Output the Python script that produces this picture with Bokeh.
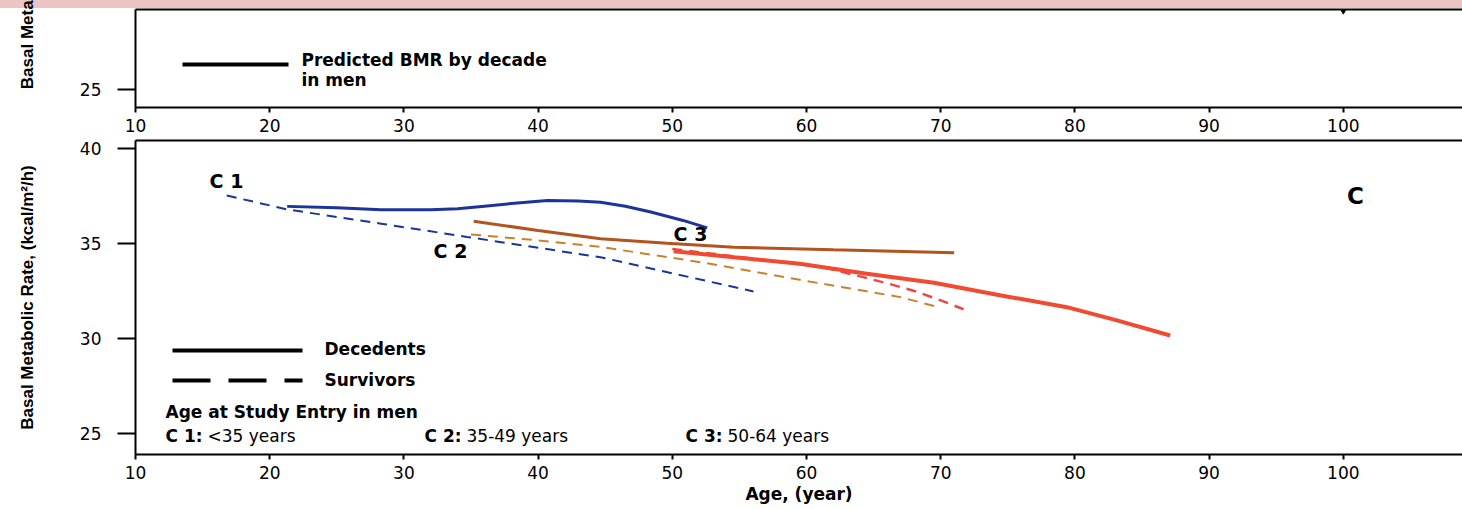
from bokeh.plotting import figure
from bokeh.models import Range1d, FixedTicker, LinearAxis
from bokeh.layouts import column
from bokeh.embed import file_html
from bokeh.resources import INLINE
from bokeh.core.properties import value

# ---------------- data ----------------
x_ticks = [10, 20, 30, 40, 50, 60, 70, 80, 90, 100]
y_ticks = [25, 30, 35, 40]

# C1 (<35 years at entry)
c1_dec_age = [21.3, 25.0, 28.3, 32.0, 34.0, 36.0, 38.0, 40.7, 43.0, 44.65, 46.5, 48.4, 50.8, 52.6]
c1_dec_bmr = [36.97, 36.90, 36.79, 36.79, 36.84, 36.98, 37.12, 37.28, 37.25, 37.19, 36.98, 36.67, 36.23, 35.84]
c1_sur_age = [16.8, 21.3, 28.3, 34.7, 40.0, 44.65, 48.4, 52.0, 56.05]
c1_sur_bmr = [37.54, 36.81, 36.06, 35.36, 34.79, 34.29, 33.70, 33.13, 32.49]

# C2 (35-49 years at entry)
c2_dec_age = [35.2, 40.0, 44.65, 49.6, 54.6, 62.0, 71.0]
c2_dec_bmr = [36.19, 35.70, 35.26, 35.03, 34.82, 34.68, 34.53]
c2_sur_age = [35.0, 40.0, 44.6, 48.4, 52.1, 55.8, 59.5, 63.3, 67.0, 70.0]
c2_sur_bmr = [35.49, 35.18, 34.84, 34.43, 34.03, 33.57, 33.10, 32.64, 32.19, 31.63]

# C3 (50-64 years at entry)
c3_dec_age = [50.1, 54.6, 59.5, 64.5, 69.5, 74.5, 79.4, 83.2, 87.1]
c3_dec_bmr = [34.61, 34.29, 33.95, 33.42, 32.95, 32.28, 31.66, 30.95, 30.17]
c3_sur_age = [50.0, 53.0, 56.0, 59.0, 61.5, 64.3, 66.2, 68.1, 70.0, 71.7]
c3_sur_bmr = [34.72, 34.48, 34.22, 33.97, 33.72, 33.23, 32.88, 32.50, 32.02, 31.55]

# predicted BMR by decade (only the point at 100 shows at the edge)
pred_age = [100]
pred_bmr = [29.33]

curve_labels = ["C 1", "C 2", "C 3"]
group_bold = ["C 1:", "C 2:", "C 3:"]
group_rest = ["<35 years", "35-49 years", "50-64 years"]
y_title = "Basal Metabolic Rate, (kcal/m\u00b2/h)"
x_title = "Age, (year)"

# ---------------- layout constants ----------------
FONT = "DejaVu Sans"
YFONT = "Liberation Sans"
W = 1462
BL = 135                      # frame left at page x 135
X_RANGE = (10, 108.88)
FW = W - BL

TOP_H = 138
TOP_Y = (24.05, 29.21)
TOP_FRAME = (9, 107)          # page px top / bottom

BOT_H = 371
BOT_Y = (23.90, 40.44)
BOT_FRAME = (140, 454)        # page px (canvas starts at 138)

BLUE = "#1c3399"
BROWN = "#b3541e"
ORANGE = "#c8832a"
RED = "#f24a30"
RED_D = "#ee4646"


def ax_(px):
    return X_RANGE[0] + (px - BL) / FW * (X_RANGE[1] - X_RANGE[0])


def ay_(py, yr, fr):
    return yr[1] - (py - fr[0]) / (fr[1] - fr[0]) * (yr[1] - yr[0])


def by(py):
    return ay_(py, BOT_Y, BOT_FRAME)


def ty(py):
    return ay_(py, TOP_Y, TOP_FRAME)


def style(p):
    p.outline_line_color = None
    p.grid.visible = False
    p.background_fill_color = "white"
    xa = p.xaxis[0]
    ya = p.yaxis[0]
    xa.ticker = FixedTicker(ticks=x_ticks)
    ya.ticker = FixedTicker(ticks=y_ticks)
    for a in (xa, ya):
        a.axis_line_width = 2
        a.axis_line_color = "black"
        a.major_tick_line_width = 2
        a.major_tick_line_color = "black"
        a.major_tick_in = 0
        a.minor_tick_out = 0
        a.minor_tick_in = 0
        a.major_label_text_font = FONT
        a.major_label_text_font_size = "17px"
        a.major_label_text_color = "black"
    xa.major_tick_out = 5
    xa.major_label_standoff = 6
    ya.major_tick_out = 18
    ya.major_label_standoff = 16
    ya.axis_label_text_font = YFONT
    ya.axis_label_text_font_size = "17px"
    ya.axis_label_text_font_style = "bold"
    ya.axis_label_text_color = "black"
    ya.axis_label_standoff = 40
    top_axis = LinearAxis(ticker=FixedTicker(ticks=[]), axis_line_width=2,
                          axis_line_color="black", major_tick_out=0, major_tick_in=0,
                          minor_tick_out=0, minor_tick_in=0, major_label_standoff=0,
                          major_label_text_font_size="0px")
    p.add_layout(top_axis, "above")
    return xa, ya


def txt(p, x, y, t, size="17px", bold=True, align="left", xoff=0):
    p.text(x=x, y=y, text=t, text_font=value(FONT), text_font_size=size,
           text_font_style="bold" if bold else "normal", text_align=align,
           text_baseline="middle", text_color="black", x_offset=xoff)


# ---------------- top (partial) panel ----------------
top = figure(width=W, height=TOP_H, x_range=Range1d(*X_RANGE), y_range=Range1d(*TOP_Y),
             output_backend="svg", toolbar_location=None,
             min_border_left=BL, min_border_right=0, min_border_top=TOP_FRAME[0],
             min_border_bottom=TOP_H - TOP_FRAME[1])
txa, tya = style(top)
top.border_fill_alpha = 0
# the title of this panel is cut by the top edge: shift it with non-breaking spaces
tya.axis_label = "\u00a0" * 43 + y_title
top.scatter(pred_age, pred_bmr, marker="inverted_triangle", size=12, color="black")
top.line([ax_(182), ax_(288)], [ty(64), ty(64)], line_color="black", line_width=4)
txt(top, [ax_(301)], [ty(59)], ["Predicted BMR by decade"])
txt(top, [ax_(301)], [ty(79)], ["in men"])

# ---------------- bottom panel ----------------
p = figure(width=W, height=BOT_H, x_range=Range1d(*X_RANGE), y_range=Range1d(*BOT_Y),
           output_backend="svg", toolbar_location=None,
           min_border_left=BL, min_border_right=0, min_border_top=BOT_FRAME[0] - TOP_H,
           min_border_bottom=BOT_H - (BOT_FRAME[1] - TOP_H))
bxa, bya = style(p)
p.border_fill_color = "white"
bya.axis_label = y_title
bxa.axis_label = x_title
bxa.axis_label_text_font = FONT
bxa.axis_label_text_font_size = "17px"
bxa.axis_label_text_font_style = "bold"
bxa.axis_label_text_color = "black"
bxa.axis_label_standoff = 2

DASH = "10 7"
p.line(c1_sur_age, c1_sur_bmr, line_color=BLUE, line_width=2, line_dash=DASH)
p.line(c2_sur_age, c2_sur_bmr, line_color=ORANGE, line_width=2, line_dash=DASH)
p.line(c3_sur_age, c3_sur_bmr, line_color=RED_D, line_width=2.5, line_dash=DASH)
p.line(c1_dec_age, c1_dec_bmr, line_color=BLUE, line_width=3)
p.line(c2_dec_age, c2_dec_bmr, line_color=BROWN, line_width=3)
p.line(c3_dec_age, c3_dec_bmr, line_color=RED, line_width=4)

# curve labels
txt(p, [ax_(226), ax_(450), ax_(690)], [by(180), by(250), by(233.5)], curve_labels,
    size="19px", align="center")
txt(p, [ax_(1355)], [by(195)], ["C"], size="23px", align="center")

# legend
p.line([ax_(172), ax_(302)], [by(350), by(350)], line_color="black", line_width=4)
p.line([ax_(172), ax_(302)], [by(380), by(380)], line_color="black", line_width=4,
       line_dash="38 18")
txt(p, [ax_(324)], [by(348)], ["Decedents"])
txt(p, [ax_(324)], [by(379)], ["Survivors"])
txt(p, [ax_(165)], [by(411.5)], ["Age at Study Entry in men"])
gx = [ax_(165), ax_(424), ax_(685)]
gy = [by(435.5)] * 3
txt(p, gx, gy, group_bold)
txt(p, gx, gy, group_rest, bold=False, xoff=42)

layout = column(top, p)
html = file_html(layout, INLINE)
html = html.replace("<head>", "<head><style>html{background:#fff linear-gradient(#ebc4c4,#ebc4c4) no-repeat 0 0/100% 8px;}</style>", 1)
open("out.html", "w").write(html)
